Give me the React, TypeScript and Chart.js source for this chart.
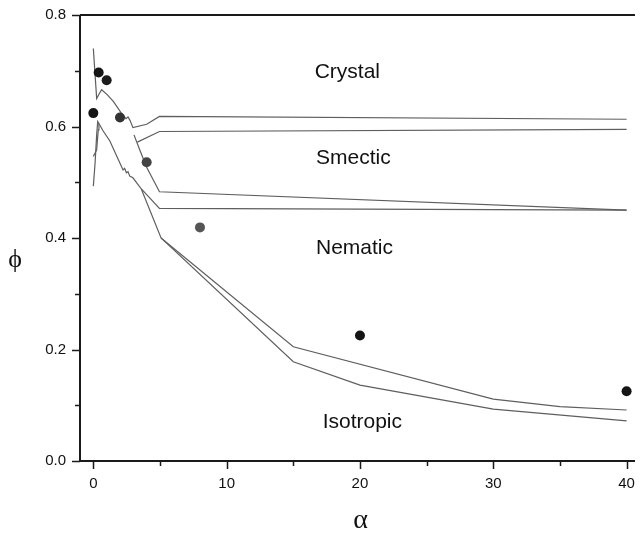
import React, { useEffect, useRef } from "react";
import { Chart, registerables } from "chart.js";

Chart.register(...registerables);

// ---- Data ----
const crystalUpperX = [0, 0.25, 0.4, 0.62, 1.0, 1.5, 2.1, 2.45, 2.6, 2.75, 2.97, 4.0, 4.96, 40];
const crystalUpperY = [0.74, 0.65, 0.657, 0.666, 0.658, 0.645, 0.624, 0.614, 0.617, 0.611, 0.598, 0.604, 0.618, 0.613];

const crystalLowerX = [3.3, 4.96, 40];
const crystalLowerY = [0.572, 0.591, 0.595];

const smNemUpperX = [3.05, 3.5, 4.0, 4.96, 40];
const smNemUpperY = [0.585, 0.557, 0.527, 0.483, 0.45];

const smNemLowerX = [3.6, 4.96, 40];
const smNemLowerY = [0.488, 0.453, 0.45];

const isoX = [0, 0.13, 0.25, 0.33, 0.74, 1.24, 2.0, 2.23, 2.35, 2.48, 2.6, 2.73, 2.97, 3.6, 5.08, 15, 20, 30, 40];
const isoY = [0.493, 0.534, 0.585, 0.609, 0.592, 0.574, 0.534, 0.522, 0.525, 0.517, 0.519, 0.511, 0.508, 0.488, 0.4, 0.178, 0.136, 0.093, 0.072];

const nemUpperX = [5.08, 15, 30, 35, 40];
const nemUpperY = [0.4, 0.205, 0.111, 0.0975, 0.0915];

const meltX = [0, 0.25, 0.37, 0.42];
const meltY = [0.546, 0.558, 0.594, 0.605];

const expX = [0, 0.4, 1, 2, 4, 8, 20, 40];
const expY = [0.624, 0.697, 0.683, 0.616, 0.536, 0.419, 0.225, 0.125];

const yTickValues = [0, 0.2, 0.4, 0.6, 0.8];
const yTickLabels = ["0.0", "0.2", "0.4", "0.6", "0.8"];
const yMinorTicks = [0.1, 0.3, 0.5, 0.7];
const xTickValues = [0, 10, 20, 30, 40];
const xTickLabels = ["0", "10", "20", "30", "40"];
const xMinorTicks = [5, 15, 25, 35];

const regionLabels = ["Crystal", "Smectic", "Nematic", "Isotropic"];
const regionX = [16.6, 16.7, 16.7, 17.2];
const regionY = [0.698, 0.543, 0.382, 0.07];

const xTitle = "α";
const yTitle = "ϕ";

const zip = (xs: number[], ys: number[]) => xs.map((x, i) => ({ x, y: ys[i] }));

const lineDs = (label: string, xs: number[], ys: number[]) => ({
  label,
  data: zip(xs, ys),
  showLine: true,
  borderColor: "#5e5e5e",
  borderWidth: 1.2,
  pointRadius: 0,
  fill: false,
  tension: 0,
});

const axesPlugin = {
  id: "customAxes",
  afterDraw(chart: any) {
    const { ctx, chartArea, scales } = chart;
    const xs = scales.x;
    const ys = scales.y;
    const { left, right, top, bottom } = chartArea;
    ctx.save();
    ctx.strokeStyle = "#1a1a1a";
    ctx.lineWidth = 2;
    ctx.beginPath();
    ctx.moveTo(left, top);
    ctx.lineTo(right, top);
    ctx.moveTo(left, top);
    ctx.lineTo(left, bottom);
    ctx.lineTo(right, bottom);
    ctx.stroke();

    ctx.lineWidth = 1.5;
    ctx.beginPath();
    yTickValues.forEach((v) => {
      const p = Math.round(ys.getPixelForValue(v)) + 0.5;
      ctx.moveTo(left - 8, p);
      ctx.lineTo(left, p);
    });
    yMinorTicks.forEach((v) => {
      const p = Math.round(ys.getPixelForValue(v)) + 0.5;
      ctx.moveTo(left - 5, p);
      ctx.lineTo(left, p);
    });
    xTickValues.forEach((v) => {
      const p = Math.round(xs.getPixelForValue(v)) + 0.5;
      ctx.moveTo(p, bottom);
      ctx.lineTo(p, bottom + 8);
    });
    xMinorTicks.forEach((v) => {
      const p = Math.round(xs.getPixelForValue(v)) + 0.5;
      ctx.moveTo(p, bottom);
      ctx.lineTo(p, bottom + 5);
    });
    ctx.stroke();

    ctx.fillStyle = "#111";
    ctx.font = "15px 'Liberation Sans', Arial, sans-serif";
    ctx.textAlign = "right";
    ctx.textBaseline = "middle";
    yTickValues.forEach((v, i) => {
      ctx.fillText(yTickLabels[i], left - 14, ys.getPixelForValue(v));
    });
    ctx.textAlign = "center";
    ctx.textBaseline = "top";
    xTickValues.forEach((v, i) => {
      ctx.fillText(xTickLabels[i], xs.getPixelForValue(v), bottom + 15);
    });

    ctx.font = "21px 'Liberation Sans', Arial, sans-serif";
    ctx.textAlign = "left";
    ctx.textBaseline = "middle";
    regionLabels.forEach((t, i) => {
      ctx.fillText(t, xs.getPixelForValue(regionX[i]), ys.getPixelForValue(regionY[i]));
    });

    ctx.font = "28px 'Liberation Serif', 'DejaVu Serif', serif";
    ctx.textAlign = "center";
    ctx.textBaseline = "middle";
    ctx.fillText(xTitle, (left + right) / 2 + 3, bottom + 60);
    ctx.font = "26px 'Liberation Serif', 'DejaVu Serif', serif";
    ctx.fillText(yTitle, 15, (top + bottom) / 2 + 22);
    ctx.restore();
  },
};

export default function App() {
  const ref = useRef<HTMLCanvasElement | null>(null);
  useEffect(() => {
    if (!ref.current) return;
    const chart = new Chart(ref.current, {
      type: "scatter",
      data: {
        datasets: [
          {
            label: "experiment",
            data: zip(expX, expY),
            showLine: false,
            pointRadius: 5,
            pointHoverRadius: 5,
            pointBackgroundColor: ["#151515", "#151515", "#1c1c1c", "#333", "#444", "#555", "#151515", "#151515"],
            pointBorderWidth: 0,
            borderColor: "transparent",
          } as any,
          lineDs("crystalUpper", crystalUpperX, crystalUpperY),
          lineDs("crystalLower", crystalLowerX, crystalLowerY),
          lineDs("smNemUpper", smNemUpperX, smNemUpperY),
          lineDs("smNemLower", smNemLowerX, smNemLowerY),
          lineDs("iso", isoX, isoY),
          lineDs("nemUpper", nemUpperX, nemUpperY),
          lineDs("melt", meltX, meltY),
        ],
      },
      options: {
        animation: false,
        responsive: true,
        maintainAspectRatio: false,
        layout: { padding: { top: 15, right: 0, left: 0, bottom: 0 } },
        plugins: { legend: { display: false }, tooltip: { enabled: false } },
        scales: {
          x: {
            type: "linear",
            min: -1,
            max: 40.63,
            ticks: { display: false },
            grid: { display: false },
            border: { display: false },
            afterFit: (s: any) => {
              s.height = 74;
            },
          },
          y: {
            type: "linear",
            min: 0,
            max: 0.8,
            ticks: { display: false },
            grid: { display: false },
            border: { display: false },
            afterFit: (s: any) => {
              s.width = 80;
            },
          },
        },
      } as any,
      plugins: [axesPlugin],
    });
    return () => chart.destroy();
  }, []);
  return (
    <div style={{ position: "fixed", left: 0, top: 0, width: 640, height: 535, background: "#fff" }}>
      <canvas ref={ref} />
    </div>
  );
}
